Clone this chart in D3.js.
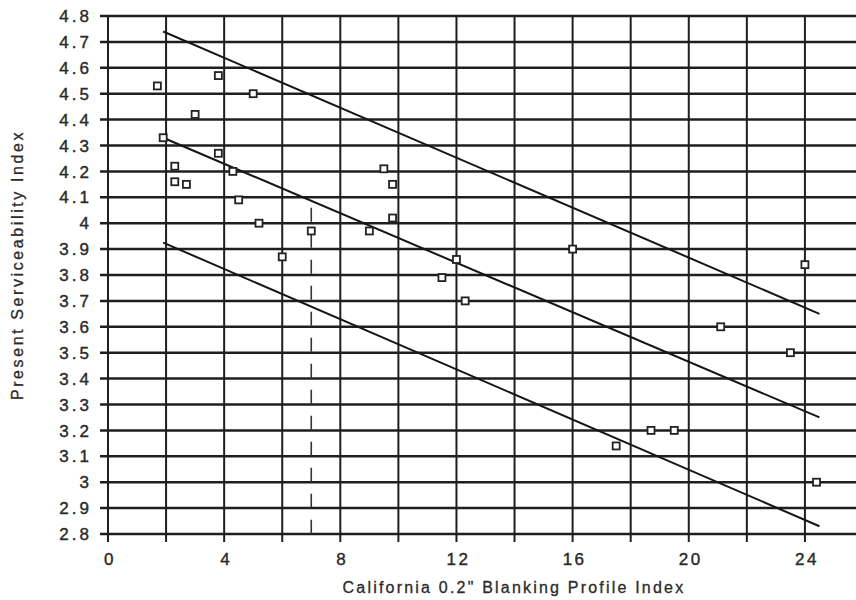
<!DOCTYPE html>
<html>
<head>
<meta charset="utf-8">
<script src="https://cdn.jsdelivr.net/npm/d3@7"></script>
<style>
  html, body { margin: 0; padding: 0; background: #fff; }
  svg { display: block; }
  text { font-family: "Liberation Sans", Arial, sans-serif; fill: #2a2a2a; }
</style>
</head>
<body>
<svg id="chart" width="856" height="600"></svg>
<script>
// ---- data ----
const pciX = [1.7, 3.8, 5.0, 3.0, 1.9, 3.8, 2.3, 4.3, 2.3, 2.7, 4.5, 5.2, 6.0,
              9.5, 9.8, 9.8, 7.0, 9.0, 12.0, 11.5, 12.3, 16.0,
              24.0, 21.1, 23.5, 18.7, 19.5, 17.5, 24.4];
const psiY = [4.53, 4.57, 4.50, 4.42, 4.33, 4.27, 4.22, 4.20, 4.16, 4.15, 4.09, 4.00, 3.87,
              4.21, 4.15, 4.02, 3.97, 3.97, 3.86, 3.79, 3.70, 3.90,
              3.84, 3.60, 3.50, 3.20, 3.20, 3.14, 3.00];
const upperLine  = [[1.9, 4.74], [24.5, 3.65]];
const middleLine = [[1.9, 4.33], [24.5, 3.25]];
const lowerLine  = [[1.9, 3.925], [24.5, 2.83]];
const limitLine  = [[7.0, 4.06], [7.0, 2.8]];
const xGridValues = [0, 2, 4, 6, 8, 10, 12, 14, 16, 18, 20, 22, 24, 26];
const xTickLabels = [0, 4, 8, 12, 16, 20, 24];
const yTickValues = [4.8, 4.7, 4.6, 4.5, 4.4, 4.3, 4.2, 4.1, 4.0, 3.9, 3.8, 3.7, 3.6,
                     3.5, 3.4, 3.3, 3.2, 3.1, 3.0, 2.9, 2.8];
const xTitle = "California 0.2\" Blanking Profile Index";
const yTitle = "Present Serviceability Index";

// ---- layout ----
const svg = d3.select("#chart");
const W = 856;
const x = d3.scaleLinear().domain([0, 26]).range([108, 863]);
const y = d3.scaleLinear().domain([2.8, 4.8]).range([534, 16]);
const gridColor = "#1f1f1f";

// vertical grid lines (with small ticks below axis)
svg.append("g").selectAll("line").data(xGridValues).join("line")
  .attr("x1", d => x(d)).attr("x2", d => x(d))
  .attr("y1", y(4.8)).attr("y2", y(2.8) + 8)
  .attr("stroke", gridColor).attr("stroke-width", 2);

// horizontal grid lines (with small ticks left of axis)
svg.append("g").selectAll("line").data(yTickValues).join("line")
  .attr("x1", x(0) - 8).attr("x2", W)
  .attr("y1", d => y(d)).attr("y2", d => y(d))
  .attr("stroke", gridColor).attr("stroke-width", 2.5);

// y tick labels
svg.append("g").selectAll("text").data(yTickValues).join("text")
  .attr("x", x(0) - 16).attr("y", d => y(d))
  .attr("dy", "0.36em")
  .attr("text-anchor", "end")
  .style("font-size", "17px")
  .style("letter-spacing", "3px")
  .style("stroke", "#2a2a2a").style("stroke-width", "0.4px")
  .text(d => String(+d.toFixed(1)));

// x tick labels
svg.append("g").selectAll("text").data(xTickLabels).join("text")
  .attr("x", d => x(d) + 2).attr("y", 565)
  .attr("text-anchor", "middle")
  .style("font-size", "17px")
  .style("letter-spacing", "2.5px")
  .style("stroke", "#2a2a2a").style("stroke-width", "0.4px")
  .text(d => d);

// axis titles
svg.append("text")
  .attr("x", 514).attr("y", 593)
  .attr("text-anchor", "middle")
  .style("font-size", "16px")
  .style("letter-spacing", "2.2px")
  .style("stroke", "#2a2a2a").style("stroke-width", "0.3px")
  .text(xTitle);

svg.append("text")
  .attr("transform", `translate(23,${265}) rotate(-90)`)
  .attr("text-anchor", "middle")
  .style("font-size", "16px")
  .style("letter-spacing", "2.6px")
  .style("stroke", "#2a2a2a").style("stroke-width", "0.3px")
  .text(yTitle);

// fitted / envelope lines
const line = d3.line().x(d => x(d[0])).y(d => y(d[1]));
svg.append("g").selectAll("path").data([upperLine, middleLine, lowerLine]).join("path")
  .attr("d", line)
  .attr("fill", "none")
  .attr("stroke", "#151515")
  .attr("stroke-width", 2);

// dashed vertical limit line
svg.append("path")
  .attr("d", line(limitLine))
  .attr("fill", "none")
  .attr("stroke", "#333")
  .attr("stroke-width", 1.6)
  .attr("stroke-dasharray", "14,12");

// data points (open squares)
const pts = pciX.map((v, i) => [v, psiY[i]]);
const s = 7;
svg.append("g").selectAll("rect").data(pts).join("rect")
  .attr("x", d => x(d[0]) - s / 2)
  .attr("y", d => y(d[1]) - s / 2)
  .attr("width", s).attr("height", s)
  .attr("fill", "#fff")
  .attr("stroke", "#222")
  .attr("stroke-width", 1.8);
</script>
</body>
</html>
